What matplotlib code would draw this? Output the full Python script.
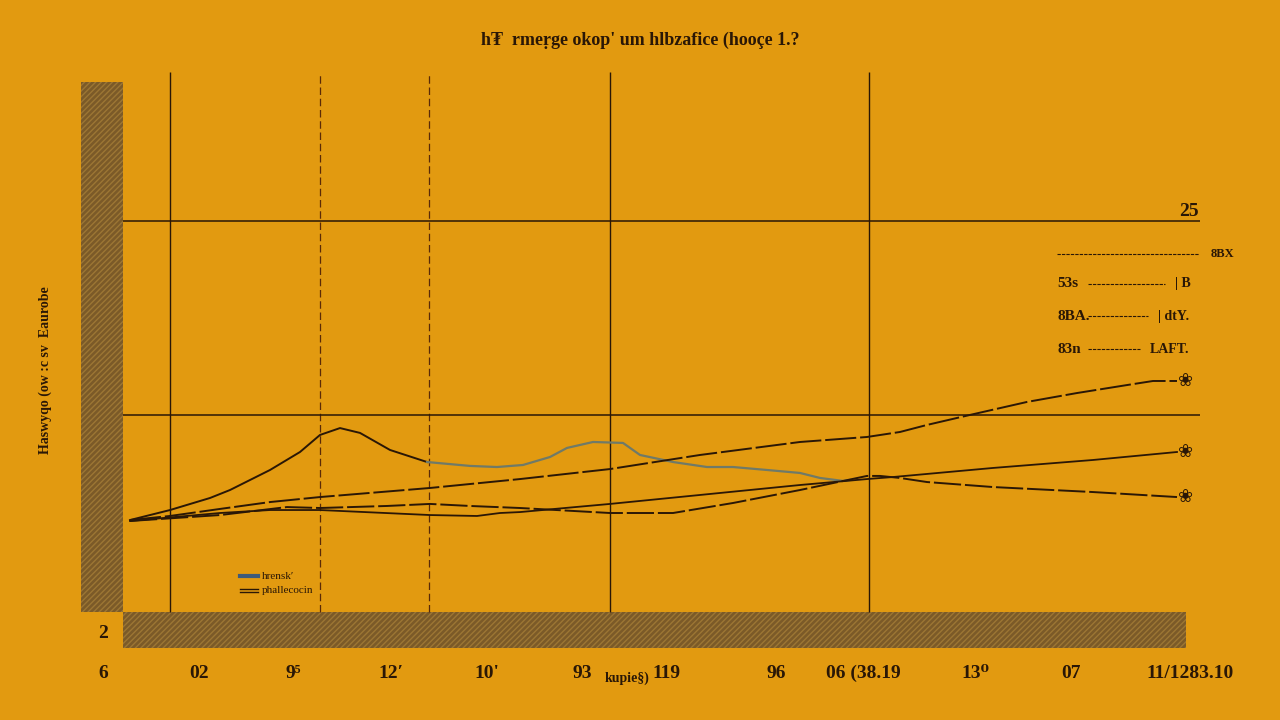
import matplotlib
matplotlib.use("Agg")
import matplotlib.pyplot as plt
from matplotlib.patches import Rectangle

plt.rcParams['font.family'] = ['Liberation Serif', 'DejaVu Serif']

BG = '#e29a10'
INK = '#2a1706'
BROWN = '#7b5a28'

# --- data ---
peak_x = [0.7, 4.7, 8.7, 10.7, 14.7, 17.7, 19.7, 21.7, 23.7, 26.7, 30.4]
peak_y = [5.88, 6.52, 7.29, 7.80, 9.08, 10.23, 11.32, 11.76, 11.45, 10.36, 9.59]

gray_x = [30.4, 34.7, 37.4, 40.0, 42.7, 44.4, 47.0, 50.0, 51.7, 55.0, 58.4, 61.0, 64.4, 67.7, 69.7, 72.0, 72.7]
gray_y = [9.59, 9.34, 9.27, 9.40, 9.91, 10.49, 10.87, 10.81, 10.04, 9.59, 9.27, 9.27, 9.08, 8.89, 8.57, 8.38, 8.44]

top_x = [0.7, 4.7, 9.7, 14.7, 19.7, 30.7, 39.7, 48.7, 57.7, 67.7, 74.4, 77.7, 80.4, 84.7, 90.4, 95.4, 100.4, 103.0, 105.4]
top_y = [5.88, 6.14, 6.59, 7.03, 7.35, 7.93, 8.50, 9.14, 10.04, 10.87, 11.19, 11.51, 11.96, 12.60, 13.43, 14.00, 14.51, 14.77, 14.77]

mid_x = [0.7, 9.7, 14.7, 19.7, 30.7, 35.4, 37.7, 39.7, 48.7, 67.7, 74.4, 77.0, 87.0, 97.0, 105.4]
mid_y = [5.82, 6.33, 6.52, 6.52, 6.20, 6.14, 6.33, 6.39, 6.91, 8.12, 8.50, 8.63, 9.21, 9.72, 10.23]

low_x = [0.7, 9.7, 16.4, 19.7, 26.4, 30.7, 34.7, 39.7, 48.7, 55.0, 61.0, 67.7, 74.4, 75.7, 77.7, 80.4, 87.0, 97.0, 105.4]
low_y = [5.82, 6.20, 6.71, 6.65, 6.78, 6.91, 6.78, 6.65, 6.33, 6.33, 6.97, 7.80, 8.70, 8.70, 8.57, 8.31, 7.99, 7.67, 7.35]

solid_vlines = [4.7, 48.7, 74.6]
dashed_vlines = [19.7, 30.6]
hlines = [25.0, 12.6]

tick_pos = [-2.0, 7.6, 17.0, 26.8, 36.4, 45.9, 54.4, 65.3, 74.0, 85.2, 94.8, 106.7]
tick_labels = ['6', '02', '9\u2075', "12\u2032", "10'", '93', '119', '96', '06 (38.19', '13\u2070', '07', '11/1283.10']

title = "h\u20ae  rmeṛge okop' um hlbzafice (hooçe 1.?"
ylabel = "Haswyqo (ow :c sv  Eaurobe"

key_rows = ['53s', '8BA.', '83n']
key_ends = [104.2, 102.5, 101.7]
key_tags = ['| B', '| dtY.', 'LAFT.']
key_y = [21.0, 18.9, 16.8]

fig = plt.figure(figsize=(12.8, 7.2), dpi=100, facecolor=BG)
ax = fig.add_axes([81 / 1280, 1 - 648 / 720, (1230 - 81) / 1280, (648 - 60) / 720])
ax.set_facecolor(BG)
ax.set_xlim(-4.2, 110.7)
ax.set_ylim(-2.30, 35.29)
for s in ax.spines.values():
    s.set_visible(False)

# brown hatched bars
ax.add_patch(Rectangle((-4.2, 0), 4.2, 33.9, facecolor=BROWN, edgecolor='#9c7634',
                       hatch='//////', linewidth=0, zorder=1))
ax.add_patch(Rectangle((0, -2.3), 106.3, 2.3, facecolor=BROWN, edgecolor='#9c7634',
                       hatch='//////', linewidth=0, zorder=1))

# grid-ish lines
ax.vlines(solid_vlines, 0, 34.5, color=INK, lw=1.0, zorder=2)
ax.vlines(dashed_vlines, 0, 34.5, color='#5a2a08', lw=0.9, linestyles=(0, (6, 3)), zorder=2)
ax.hlines(hlines, 0, 107.7, color=INK, lw=1.1, zorder=2)

# series
ax.plot(peak_x, peak_y, color=INK, lw=1.4, zorder=4)
ax.plot(gray_x, gray_y, color='#6f7a68', lw=1.6, zorder=4)
ax.plot(top_x, top_y, color=INK, lw=1.4, dashes=(16, 2), zorder=4)
ax.plot(mid_x, mid_y, color=INK, lw=1.3, zorder=4)
ax.plot(low_x, low_y, color=INK, lw=1.4, dashes=(14, 2), zorder=4)

for yy in [top_y[-1], mid_y[-1], low_y[-1]]:
    ax.text(106.3, yy, '\u2740', fontsize=13, color=INK, ha='center', va='center',
            family='DejaVu Sans', zorder=5)

# upper right key
ax.text(106.6, 25.6, '25', fontsize=14, color=INK, ha='center', va='center', weight='bold')
ax.plot([93.4, 107.6], [22.9, 22.9], color=INK, lw=0.8, ls=(0, (3, 1)))
ax.text(108.8, 22.9, '8BX', fontsize=9, color=INK, va='center', weight='bold')
for lab, xe, tag, yy in zip(key_rows, key_ends, key_tags, key_y):
    ax.text(93.4, yy, lab, fontsize=11, color=INK, va='center', weight='bold')
    ax.plot([96.5, xe], [yy, yy], color=INK, lw=0.8, ls=(0, (3, 1)))
    ax.text(xe + 1.0, yy, tag, fontsize=10, color=INK, va='center', weight='bold')

# lower left key
ax.plot([11.7, 13.5], [2.3, 2.3], color='#3d5a7a', lw=3)
ax.text(13.9, 2.3, "hrensk\u2032", fontsize=8, color=INK, va='center')
ax.plot([11.7, 13.5], [1.5, 1.5], color=INK, lw=1)
ax.plot([11.7, 13.5], [1.25, 1.25], color=INK, lw=1)
ax.text(13.9, 1.4, 'phallecocin', fontsize=8, color=INK, va='center')

ax.set_xticks(tick_pos)
ax.set_xticklabels(tick_labels, fontsize=14, color=INK, weight='bold')
ax.tick_params(axis='x', length=0, pad=12)
ax.set_yticks([])

fig.text(103 / 1280, 1 - 633 / 720, '2', fontsize=14, color=INK, ha='center', va='center', weight='bold')
fig.text(627 / 1280, 1 - 678 / 720, 'kupie\u00a7)', fontsize=10, color=INK, ha='center', va='center', weight='bold')
fig.text(0.5, 1 - 40 / 720, title, fontsize=13, color=INK, ha='center', va='center', weight='bold')
fig.text(45 / 1280, 1 - 370 / 720, ylabel, fontsize=10, color=INK, rotation=90,
         ha='center', va='center', weight='bold')

fig.savefig('out.png', dpi=100, facecolor=BG)
